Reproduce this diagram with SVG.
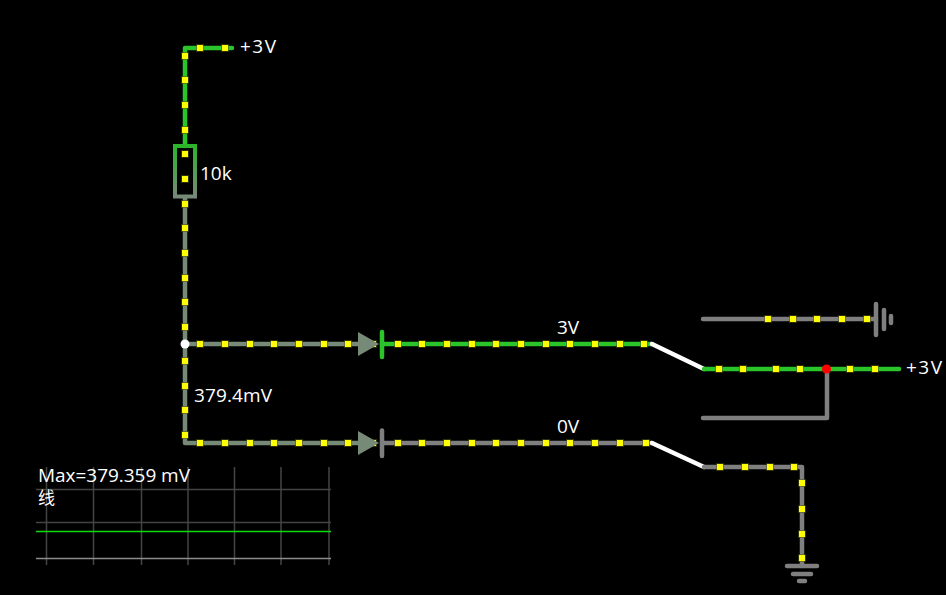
<svg xmlns="http://www.w3.org/2000/svg" xmlns:xlink="http://www.w3.org/1999/xlink" width="946" height="595" viewBox="0 0 946 595">
<style>
text{font-family:"Open Sans","Noto Sans","Noto Sans CJK SC",sans-serif;font-size:19px;fill:#fff}
.w{fill:none;stroke-width:4.500;stroke-linecap:round;stroke-linejoin:round}
.g{stroke:#2bc52b}
.gr{stroke:#7f7f7f}
.m{stroke:#778a78}
.s{stroke:#fff}
.grid{stroke:#444;stroke-width:1.500;fill:none}
</style>
<defs>
<g id="d"><rect x="-4" y="-4" width="8" height="8" fill="#55550f" opacity="0.55"/><rect x="-3" y="-3" width="6" height="6" fill="#ffff00"/></g>
<linearGradient id="rg" x1="0" y1="0" x2="0" y2="1"><stop offset="0" stop-color="#2bb52b"/><stop offset="1" stop-color="#778a78"/></linearGradient>
</defs>
<rect width="946" height="595" fill="#000"/>
<g id="connectors">
<path class="w g" d="M232 48H185V146"/>
<path class="w m" d="M185 197V443H360"/>
<path class="w m" d="M185 344H360"/>
<path class="w g" d="M382 344H652"/>
<path class="w gr" d="M382 443H652"/>
<path class="w s" d="M652 344L704 369"/>
<path class="w s" d="M652 443L704 467"/>
<path class="w g" d="M704 369H899"/>
<path class="w gr" d="M703 418H827V369"/>
<path class="w gr" d="M703 319H876"/>
<path class="w gr" d="M704 467H802V566"/>
</g>
<g id="current-dots">
<use href="#d" x="200" y="48"/><use href="#d" x="225" y="48"/>
<use href="#d" x="185" y="56"/><use href="#d" x="185" y="80"/><use href="#d" x="185" y="105"/><use href="#d" x="185" y="130"/><use href="#d" x="185" y="154"/><use href="#d" x="185" y="179"/><use href="#d" x="185" y="204"/><use href="#d" x="185" y="228"/><use href="#d" x="185" y="253"/><use href="#d" x="185" y="278"/><use href="#d" x="185" y="302"/><use href="#d" x="185" y="327"/><use href="#d" x="185" y="361"/><use href="#d" x="185" y="386"/><use href="#d" x="185" y="410"/><use href="#d" x="185" y="435"/>
<use href="#d" x="200" y="344"/><use href="#d" x="225" y="344"/><use href="#d" x="250" y="344"/><use href="#d" x="274" y="344"/><use href="#d" x="299" y="344"/><use href="#d" x="324" y="344"/><use href="#d" x="348" y="344"/><use href="#d" x="373" y="344"/><use href="#d" x="398" y="344"/><use href="#d" x="422" y="344"/><use href="#d" x="447" y="344"/><use href="#d" x="472" y="344"/><use href="#d" x="496" y="344"/><use href="#d" x="521" y="344"/><use href="#d" x="546" y="344"/><use href="#d" x="570" y="344"/><use href="#d" x="595" y="344"/><use href="#d" x="620" y="344"/><use href="#d" x="644" y="344"/>
<use href="#d" x="200" y="443"/><use href="#d" x="225" y="443"/><use href="#d" x="250" y="443"/><use href="#d" x="274" y="443"/><use href="#d" x="299" y="443"/><use href="#d" x="324" y="443"/><use href="#d" x="348" y="443"/><use href="#d" x="373" y="443"/><use href="#d" x="398" y="443"/><use href="#d" x="422" y="443"/><use href="#d" x="447" y="443"/><use href="#d" x="472" y="443"/><use href="#d" x="496" y="443"/><use href="#d" x="521" y="443"/><use href="#d" x="546" y="443"/><use href="#d" x="570" y="443"/><use href="#d" x="595" y="443"/><use href="#d" x="620" y="443"/><use href="#d" x="646" y="443"/>
<use href="#d" x="768" y="319"/><use href="#d" x="793" y="319"/><use href="#d" x="817" y="319"/><use href="#d" x="842" y="319"/><use href="#d" x="867" y="319"/>
<use href="#d" x="719" y="369"/><use href="#d" x="743" y="369"/><use href="#d" x="776" y="369"/><use href="#d" x="800" y="369"/><use href="#d" x="850" y="369"/><use href="#d" x="875" y="369"/>
<use href="#d" x="720" y="467"/><use href="#d" x="745" y="467"/><use href="#d" x="770" y="467"/><use href="#d" x="794" y="467"/>
<use href="#d" x="802" y="483"/><use href="#d" x="802" y="509"/><use href="#d" x="802" y="534"/><use href="#d" x="802" y="558"/>
</g>
<g id="source-top"><text x="240" y="53" textLength="36" lengthAdjust="spacing">+3V</text></g>
<g id="resistor"><rect x="175" y="146" width="20" height="50.500" fill="none" stroke="url(#rg)" stroke-width="4"/><text x="200" y="180">10k</text></g>
<g id="node-white"><circle cx="185" cy="344" r="4.500" fill="#fff"/></g>
<g id="label-mv"><text x="194" y="402" textLength="78" lengthAdjust="spacing">379.4mV</text></g>
<g id="diode-top"><path d="M358 332L379 344L358 356Z" fill="#778a78"/><path class="w g" d="M382 332V357"/></g>
<g id="diode-bottom"><path d="M358 431L379 443L358 455Z" fill="#778a78"/><path class="w gr" d="M382 430.500V456"/></g>
<g id="label-3v"><text x="557" y="334">3V</text></g>
<g id="label-0v"><text x="557" y="433">0V</text></g>
<g id="battery-ground"><path class="w gr" d="M876 304V335"/><path class="w gr" d="M884 310V329"/><path class="w gr" d="M891 316V323"/></g>
<g id="junction-red"><circle cx="826.500" cy="369" r="4.500" fill="#f00"/></g>
<g id="source-right"><text x="906" y="374" textLength="36" lengthAdjust="spacing">+3V</text></g>
<g id="ground"><path class="w gr" d="M787 566H817"/><path class="w gr" d="M793 574H811"/><path class="w gr" d="M799 581H805"/></g>
<g id="scope">
<path class="grid" d="M46.500 467V565M93.500 467V565M141.500 467V565M188 467V565M234.500 467V565M281 467V565M329 467V565M36 489.500H331M36 522.500H331"/>
<path d="M36 558.500H331" stroke="#8c8c8c" stroke-width="1.500" fill="none"/>
<path d="M36 531.500H331" stroke="#0fdc0f" stroke-width="1.500" fill="none"/>
<text x="38" y="482" textLength="152" lengthAdjust="spacing">Max=379.359 mV</text>
<text x="38" y="504" style="font-size:17px">线</text>
</g>
</svg>
